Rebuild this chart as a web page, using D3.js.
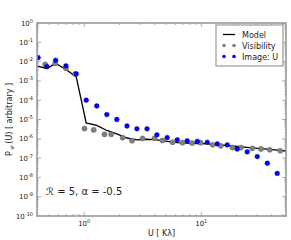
<!DOCTYPE html>
<head>
    <script src="https://d3js.org/d3.v7.min.js"></script>
    <style>
        body { margin: 0; background: #fff; }
        text { font-family: "DejaVu Sans", sans-serif; fill: #222; }
    </style>
</head>

<body>
    <div id="chart"></div>
</body>

<script>

    // values
    const imageU = [0.404, 0.48, 0.57, 0.698, 0.855, 1.04, 1.28, 1.56, 1.90, 2.32, 2.82, 3.44, 4.18,
        5.12, 6.24, 7.59, 9.25, 11.25, 13.7, 16.7, 20.3, 24.7, 30.1, 36.7, 44.6];
    const imageP = [1.6e-2, 5.5e-3, 1.17e-2, 6.0e-3, 2.3e-3, 1.0e-4, 5.0e-5, 1.8e-5, 1.0e-5, 4.6e-6,
        3.3e-6, 3.3e-6, 1.6e-6, 1.15e-6, 8.9e-7, 7.9e-7, 7.4e-7, 6.6e-7, 5.4e-7, 4.8e-7, 2.95e-7,
        2.1e-7, 1.2e-7, 5.4e-8, 1.6e-8];

    const modelU = [0.398, 0.48, 0.57, 0.698, 0.855, 1.04, 1.28, 1.56, 1.90, 2.32, 2.82, 3.44, 4.18,
        5.12, 6.24, 7.59, 9.25, 11.25, 13.7, 16.7, 20.3, 24.7, 30.1, 36.7, 44.6, 54];
    const modelP = [5.9e-3, 4.4e-3, 8.1e-3, 3.9e-3, 1.6e-3, 6.6e-6, 4.9e-6, 2.7e-6, 1.8e-6, 1.1e-6,
        8.7e-7, 9.5e-7, 8.9e-7, 7.3e-7, 6.4e-7, 5.9e-7, 5.7e-7, 5.4e-7, 4.9e-7, 4.5e-7, 4.0e-7,
        3.6e-7, 3.2e-7, 2.9e-7, 2.6e-7, 2.3e-7];

    const visU = [0.464, 0.565, 0.698, 0.838, 1.006, 1.205, 1.49, 1.70, 2.13, 2.56, 3.15, 3.99, 4.66,
        5.69, 6.92, 8.34, 9.86, 12.5, 14.7, 18.5, 21.9, 27.3, 32.4, 38.5, 47.3];
    const visP = [7.2e-3, 8.1e-3, 4.5e-3, 2.3e-3, 3.4e-6, 2.9e-6, 1.7e-6, 1.7e-6, 1.15e-6, 8.0e-7,
        1.04e-6, 1.07e-6, 8.2e-7, 6.6e-7, 6.3e-7, 6.0e-7, 6.3e-7, 4.9e-7, 4.3e-7, 3.5e-7, 3.5e-7,
        3.2e-7, 3.0e-7, 2.7e-7, 2.4e-7];

    const xDomain = [0.395, 53];
    const yExponents = [0, -1, -2, -3, -4, -5, -6, -7, -8, -9, -10];
    const xExponents = [0, 1];
    const legendNames = ['Model', 'Visibility', 'Image: U'];

    const width = 291, height = 240;
    const margin = {left: 37, right: 5, top: 23, bottom: 24};

    const svg = d3.select('#chart').append('svg')
        .attr('width', width)
        .attr('height', height);

    const x = d3.scaleLog().domain(xDomain)
        .range([margin.left, width - margin.right]);
    const y = d3.scaleLog().domain([1e-10, 1])
        .range([height - margin.bottom, margin.top]);

    const sup = {'-': '\u207B', '0': '\u2070', '1': '\u00B9', '2': '\u00B2', '3': '\u00B3',
        '4': '\u2074', '5': '\u2075', '6': '\u2076', '7': '\u2077', '8': '\u2078', '9': '\u2079'};

    svg.append('clipPath').attr('id', 'clip')
        .append('rect')
        .attr('x', x.range()[0]).attr('y', y.range()[1])
        .attr('width', x.range()[1] - x.range()[0])
        .attr('height', y.range()[0] - y.range()[1]);

    // minor / major ticks, drawn inward on all four sides
    const frameColor = '#999';
    const ticks = svg.append('g').attr('stroke', frameColor).attr('stroke-width', 0.8);

    const xMinor = [];
    for (let e = -1; e <= 1; e++) for (let m = 2; m <= 9; m++) {
        const v = m * Math.pow(10, e);
        if (v > xDomain[0] && v < xDomain[1]) xMinor.push(v);
    }
    const yMinor = [];
    for (let e = -10; e < 0; e++) for (let m = 2; m <= 9; m++) yMinor.push(m * Math.pow(10, e));

    const addXTicks = (vals, len) => {
        vals.forEach(v => {
            ticks.append('line').attr('x1', x(v)).attr('x2', x(v))
                .attr('y1', y.range()[0]).attr('y2', y.range()[0] - len);
            ticks.append('line').attr('x1', x(v)).attr('x2', x(v))
                .attr('y1', y.range()[1]).attr('y2', y.range()[1] + len);
        });
    };
    const addYTicks = (vals, len) => {
        vals.forEach(v => {
            ticks.append('line').attr('y1', y(v)).attr('y2', y(v))
                .attr('x1', x.range()[0]).attr('x2', x.range()[0] + len);
            ticks.append('line').attr('y1', y(v)).attr('y2', y(v))
                .attr('x1', x.range()[1]).attr('x2', x.range()[1] - len);
        });
    };
    addXTicks(xMinor, 2);
    addXTicks(xExponents.map(e => Math.pow(10, e)), 4);
    addYTicks(yMinor, 1.5);
    addYTicks(yExponents.map(e => Math.pow(10, e)), 4);

    // tick labels
    const tickLabel = (g, e) => {
        g.append('tspan').text('10');
        g.append('tspan').attr('font-size', 5).attr('dy', -3)
            .text(String(e).split('').map(c => sup[c] ? c : c).join(''));
    };
    yExponents.forEach(e => {
        const t = svg.append('text')
            .attr('x', x.range()[0] - 4)
            .attr('y', y(Math.pow(10, e)) + 2.5)
            .attr('text-anchor', 'end')
            .attr('font-size', 7);
        tickLabel(t, e);
    });
    xExponents.forEach(e => {
        const t = svg.append('text')
            .attr('x', x(Math.pow(10, e)))
            .attr('y', y.range()[0] + 10)
            .attr('text-anchor', 'middle')
            .attr('font-size', 7);
        tickLabel(t, e);
    });

    // series
    const plot = svg.append('g').attr('clip-path', 'url(#clip)');

    const line = d3.line().x(d => x(d[0])).y(d => y(d[1]));
    plot.append('path')
        .datum(d3.zip(modelU, modelP))
        .attr('d', line)
        .attr('fill', 'none')
        .attr('stroke', '#000')
        .attr('stroke-width', 1.3);

    plot.selectAll('circle.vis').data(d3.zip(visU, visP))
        .enter().append('circle').attr('class', 'vis')
        .attr('cx', d => x(d[0])).attr('cy', d => y(d[1]))
        .attr('r', 2.6)
        .attr('fill', '#808080')
        .attr('stroke', '#5a5a5a').attr('stroke-width', 0.4);

    plot.selectAll('circle.img').data(d3.zip(imageU, imageP))
        .enter().append('circle').attr('class', 'img')
        .attr('cx', d => x(d[0])).attr('cy', d => y(d[1]))
        .attr('r', 2.4)
        .attr('fill', '#0000ff')
        .attr('stroke', '#00008b').attr('stroke-width', 0.4);

    // frame
    svg.append('rect')
        .attr('x', x.range()[0]).attr('y', y.range()[1])
        .attr('width', x.range()[1] - x.range()[0])
        .attr('height', y.range()[0] - y.range()[1])
        .attr('fill', 'none')
        .attr('stroke', frameColor)
        .attr('stroke-width', 1.6);

    // axis titles
    svg.append('text')
        .attr('x', (x.range()[0] + x.range()[1]) / 2)
        .attr('y', height - 4)
        .attr('text-anchor', 'middle')
        .attr('font-size', 8)
        .text('U [ K\u03BB]');

    const yl = svg.append('text')
        .attr('transform', `translate(12,${(y.range()[0] + y.range()[1]) / 2}) rotate(-90)`)
        .attr('text-anchor', 'middle')
        .attr('font-size', 8);
    yl.append('tspan').text('P');
    yl.append('tspan').attr('font-size', 5.5).attr('dy', 2).attr('font-style', 'italic').text('\uD835\uDCB0');
    yl.append('tspan').attr('dy', -2).text(' (U) [ arbitrary ]');

    // annotation
    svg.append('text')
        .attr('x', 46)
        .attr('y', 195)
        .attr('font-size', 10)
        .text('\u211B = 5, \u03B1 = -0.5');

    // legend
    const lg = svg.append('g').attr('transform', 'translate(216,25)');
    lg.append('rect')
        .attr('width', 67).attr('height', 41)
        .attr('fill', '#fff')
        .attr('stroke', frameColor).attr('stroke-width', 1.2);
    legendNames.forEach((name, i) => {
        const cy = 9.5 + i * 11;
        if (i === 0) {
            lg.append('line').attr('x1', 7).attr('x2', 19).attr('y1', cy).attr('y2', cy)
                .attr('stroke', '#000').attr('stroke-width', 1.3);
        } else {
            [8, 18].forEach(cx => lg.append('circle')
                .attr('cx', cx).attr('cy', cy).attr('r', 1.8)
                .attr('fill', i === 1 ? '#808080' : '#0000ff'));
        }
        lg.append('text')
            .attr('x', 26).attr('y', cy + 3)
            .attr('font-size', 8)
            .text(name);
    });

</script>
